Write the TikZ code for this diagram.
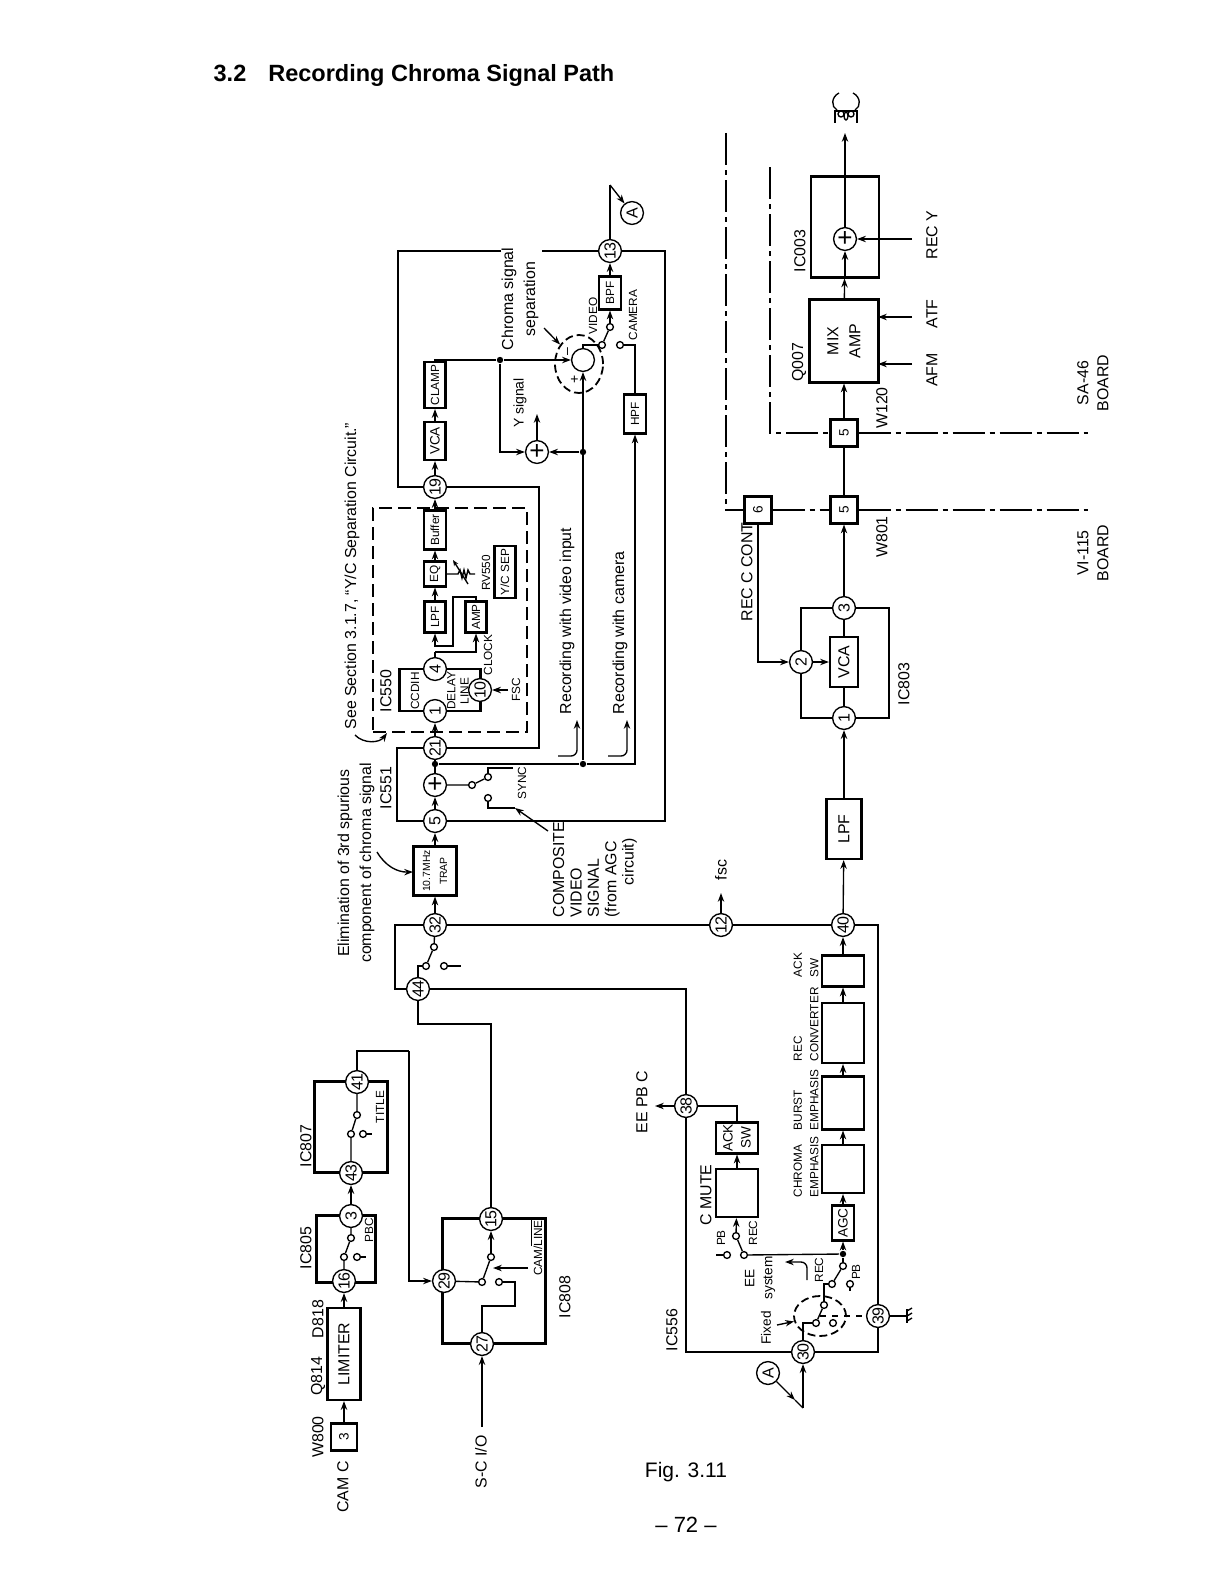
\documentclass[tikz,border=0pt]{standalone}
\usepackage{fontspec}
\setmainfont{Liberation Sans}
\usetikzlibrary{arrows.meta, shapes.geometric}
\newcommand{\lblf}{\fontsize{7.95}{11}\selectfont}
\newcommand{\smlf}{\fontsize{5.9}{8.2}\selectfont}
\newcommand{\midf}{\fontsize{6.8}{9}\selectfont}
\tikzset{
  every picture/.style={line width=0.68pt},
  sz/.style 2 args={minimum width=#1*0.5pt, minimum height=#2*0.5pt},
  blk/.style={draw, rotate=90, line width=1.05pt, inner sep=0pt, align=center, font=\smlf, fill=white},
  icbox/.style={draw, rotate=90, line width=1.05pt, inner sep=0pt},
  pinc/.style={circle, draw, fill=white, rotate=90, inner sep=0pt, minimum size=11.4pt, font=\fontsize{8}{8}\selectfont},
  sumc/.style={circle, draw, fill=white, inner sep=0pt, minimum size=11.4pt, font=\fontsize{13}{13}\selectfont},
  contact/.style={circle, draw, fill=white, inner sep=0pt, minimum size=3.4pt},
  jct/.style={circle, fill=black, inner sep=0pt, minimum size=3.2pt},
  arrow/.style={-{Stealth[length=4.4pt, width=3.2pt]}},
  icline/.style={line width=1.05pt},
  board/.style={line width=1.2pt, dash pattern=on 16pt off 2.5pt on 2.5pt off 2.5pt},
  lab/.style={rotate=90, font=\lblf, inner sep=0pt, align=center},
  labs/.style={rotate=90, font=\smlf, inner sep=0pt, align=center},
  labb/.style={rotate=90, font=\smlf, inner sep=0pt, align=left, anchor=west},
}
\begin{document}
\begin{tikzpicture}[x=0.5pt, y=-0.5pt]
  \useasboundingbox (0,0) rectangle (1223,1584);
  \node[anchor=west, inner sep=0pt, font=\fontsize{11.75}{13}\selectfont\bfseries] (sect) at (213,75) {3.2\hspace{11pt}Recording Chroma Signal Path};
  \node[inner sep=0pt, font=\fontsize{10.5}{12}\selectfont] (figno) at (686,1472) {Fig. 3.11};
  \node[inner sep=0pt, font=\fontsize{11}{12}\selectfont] (pageno) at (686,1525) {-- 72 --};

  \node[icbox, sz={42}{81}] (ic550) at (440,690) {};
  \node[icbox, sz={91}{73}] (ic807) at (351,1127) {};
  \node[icbox, sz={67}{59}] (ic805) at (346,1249) {};
  \node[icbox, sz={125}{103}] (ic808) at (494,1281) {};
  \node[icbox, sz={110}{88}] (ic803) at (845,663) {};
  \node[icbox, sz={101}{68}] (ic003) at (845,227) {};
  \node[draw, dash pattern=on 6.5pt off 3pt, line width=1.15pt, minimum width=77pt, minimum height=112pt, inner sep=0pt] (ycsep) at (450,620) {};
  \node[ellipse, draw, dash pattern=on 4pt off 2pt, line width=0.9pt, inner sep=0pt, minimum width=24pt, minimum height=29pt] (sepring) at (579,364) {};
  \node[ellipse, draw, dash pattern=on 4pt off 2pt, line width=0.9pt, inner sep=0pt, minimum width=26pt, minimum height=20pt] (fixring) at (820,1316) {};

  \node[pinc] (p13) at (610,251) {13};
  \node[pinc] (p19) at (435,487) {19};
  \node[pinc] (p21) at (435,748) {21};
  \node[pinc] (p5) at (435,821) {5};
  \node[pinc] (p4) at (435,669) {4};
  \node[pinc] (p1) at (435,711) {1};
  \node[pinc] (p10) at (480,690) {10};
  \node[pinc] (p32) at (435,925) {32};
  \node[pinc] (p44) at (418,989) {44};
  \node[pinc] (p41) at (357,1082) {41};
  \node[pinc] (p43) at (351,1173) {43};
  \node[pinc] (p3) at (351,1216) {3};
  \node[pinc] (p16) at (344,1281) {16};
  \node[pinc] (p29) at (444,1281) {29};
  \node[pinc] (p15) at (491,1219) {15};
  \node[pinc] (p27) at (482,1344) {27};
  \node[pinc] (p12) at (721,925) {12};
  \node[pinc] (p40) at (843,925) {40};
  \node[pinc] (p38) at (686,1106) {38};
  \node[pinc] (p30) at (803,1352) {30};
  \node[pinc] (p39) at (878,1316) {39};
  \node[pinc] (p1b) at (844,718) {1};
  \node[pinc] (p2b) at (801,662) {2};
  \node[pinc] (p3b) at (844,608) {3};
  \node[pinc] (cA) at (632,213) {A};
  \node[pinc] (cB) at (768,1373) {A};

  \node[blk, sz={33}{22}] (bpf) at (610,293) {BPF};
  \node[blk, sz={39}{22}] (hpf) at (635,414) {HPF};
  \node[blk, sz={46}{21}] (clamp) at (435,385) {CLAMP};
  \node[blk, sz={38}{21}, font=\midf] (vca) at (435,441) {VCA};
  \node[blk, sz={39}{22}] (buffer) at (435,530) {Buffer};
  \node[blk, sz={25}{22}] (eq) at (435,574) {EQ};
  \node[blk, sz={31}{21}] (lpfa) at (435,617) {LPF};
  \node[blk, sz={31}{21}] (amp) at (476,617) {AMP};
  \node[blk, sz={52}{21}] (ycsepbox) at (505,572) {Y/C SEP};
  \node[blk, sz={49}{43}, font=\fontsize{5.2}{7.4}\selectfont] (trap) at (435,871) {10.7MHz\\[1pt]TRAP};
  \node[blk, sz={92}{33}, font=\lblf] (limiter) at (344,1354) {LIMITER};
  \node[blk, sz={27}{26}, font=\midf] (w800) at (344,1437) {3};
  \node[blk, sz={31}{42}] (acksw) at (843,971) {};
  \node[blk, sz={60}{42}] (recconv) at (843,1033) {};
  \node[blk, sz={53}{42}] (burst) at (843,1103) {};
  \node[blk, sz={48}{42}] (chroma) at (843,1169) {};
  \node[blk, sz={35}{22}, font=\midf] (agc) at (843,1223) {AGC};
  \node[blk, sz={31}{42}, font=\midf] (acksw2) at (737,1138) {ACK\\SW};
  \node[blk, sz={48}{42}] (cmute) at (737,1193) {};
  \node[blk, sz={60}{35}, font=\lblf] (lpfb) at (844,829) {LPF};
  \node[blk, sz={50}{28}, font=\lblf] (vcab) at (844,662) {VCA};
  \node[blk, sz={27}{27}, font=\midf] (c6) at (758,510) {6};
  \node[blk, sz={27}{27}, font=\midf] (c5a) at (844,510) {5};
  \node[blk, sz={27}{27}, font=\midf] (c5b) at (844,433) {5};
  \node[blk, sz={83}{69}, font=\lblf] (mix) at (844,341) {MIX\\AMP};

  \node[sumc] (sub) at (583,360) {};
  \node[sumc] (plusy) at (537,452) {+};
  \node[sumc] (plusa) at (435,785) {+};
  \node[sumc] (plusm) at (845,239) {+};

  \node[jct] (jy) at (500,360) {};
  \node[jct] (j2) at (583,452) {};
  \node[jct] (j3) at (583,764) {};
  \node[jct] (j1) at (435,764) {};
  \node[jct] (jagc) at (843,1254) {};

  \node[contact] (swv) at (610,327) {};
  \node[contact] (swcom) at (602,345) {};
  \node[contact] (swcam) at (620,345) {};
  \node[contact] (swsa) at (472,785) {};
  \node[contact] (swsb) at (488,777) {};
  \node[contact] (swsc) at (488,798) {};
  \node[contact] (sw44a) at (434,947) {};
  \node[contact] (sw44b) at (426,966) {};
  \node[contact] (sw44c) at (444,966) {};
  \node[contact] (swta) at (357,1115) {};
  \node[contact] (swtb) at (351,1134) {};
  \node[contact] (swtc) at (363,1134) {};
  \node[contact] (swpa) at (351,1238) {};
  \node[contact] (swpb) at (344,1257) {};
  \node[contact] (swpc) at (357,1257) {};
  \node[contact] (swla) at (491,1257) {};
  \node[contact] (swlb) at (482,1282) {};
  \node[contact] (swlc) at (499,1282) {};
  \node[contact] (swma) at (736,1236) {};
  \node[contact] (swmb) at (744,1255) {};
  \node[contact] (swmc) at (727,1255) {};
  \node[contact] (swra) at (843,1266) {};
  \node[contact] (swrb) at (832,1284) {};
  \node[contact] (swrc) at (850,1284) {};
  \node[contact] (swfa) at (824,1305) {};
  \node[contact] (swfb) at (816,1323) {};
  \node[contact] (swfc) at (833,1323) {};

  \coordinate (gapa) at (542,251);
  \coordinate (gapb) at (501,251);
  \coordinate (ica) at (398,251);
  \coordinate (icb) at (398,487);
  \coordinate (icc) at (539,487);
  \coordinate (icd) at (539,748);
  \coordinate (ice) at (397,748);
  \coordinate (icf) at (397,821);
  \coordinate (icg) at (665,821);
  \coordinate (ich) at (665,251);
  \draw[icline] (p13) -- (gapa);
  \draw[icline] (gapb) -- (ica) -- (icb) -- (p19);
  \draw[icline] (p19) -- (icc) -- (icd) -- (p21);
  \draw[icline] (p21) -- (ice) -- (icf) -- (p5);
  \draw[icline] (p5) -- (icg) -- (ich) -- (p13);

  \coordinate (ida) at (395,925);
  \coordinate (idb) at (395,989);
  \coordinate (idc) at (686,989);
  \coordinate (idd) at (686,1352);
  \coordinate (ide) at (878,1352);
  \coordinate (idf) at (878,925);
  \draw[icline] (p32) -- (ida) -- (idb) -- (p44);
  \draw[icline] (p44) -- (idc) -- (p38);
  \draw[icline] (p38) -- (idd) -- (p30);
  \draw[icline] (p30) -- (ide) -- (p39);
  \draw[icline] (p39) -- (idf) -- (p40);
  \draw[icline] (p40) -- (p12);
  \draw[icline] (p12) -- (p32);

  \coordinate (atip) at (610,185);
  \draw (p13) -- (atip);
  \draw[arrow] (atip) -- (cA);
  \draw[arrow] (bpf) -- (p13);
  \draw[arrow] (swv) -- (bpf);
  \draw (swcom) -- (swv);
  \draw (sub) |- (swcom);
  \draw (swcam) -| (hpf);
  \draw[arrow] (j3) -| (hpf);
  \draw[arrow] (j3) -- (sub);
  \draw (j1) -- (j3);
  \draw (plusa) -- (p21);
  \draw[arrow] (j2) -- (plusy);
  \draw[arrow] (jy) |- (plusy);
  \coordinate (yout) at (537,414);
  \draw[arrow] (plusy) -- (yout);
  \coordinate (clampout) at (435,360);
  \draw (clamp) -- (clampout) -- (jy);
  \draw[arrow] (jy) -- (sub);
  \draw[arrow] (vca) -- (clamp);
  \draw[arrow] (p19) -- (vca);
  \draw[arrow] (buffer) -- (p19);
  \draw[arrow] (eq) -- (buffer);
  \draw[arrow] (lpfa) -- (eq);
  \coordinate (fba) at (453,597);
  \coordinate (fbb) at (453,646);
  \draw[arrow] (amp) |- (fba) -- (fbb) -| (lpfa);
  \coordinate (p4t) at (435,652);
  \draw (p4) -- (p4t);
  \draw[arrow] (p4t) -| (amp);
  \coordinate (fscin) at (508,690);
  \draw[arrow] (fscin) -- (p10);
  \draw[arrow] (p21) -- (p1);
  \draw[arrow] (p5) -- (plusa);
  \draw[arrow] (trap) -- (p5);
  \draw[arrow] (p32) -- (trap);

  \coordinate (potend) at (475,574);
  \draw (eq) -- (458,574) -- (460,570) -- (462,578) -- (464,570) -- (466,578) -- (468,570) -- (470,574) -- (potend);
  \coordinate (pota) at (468,584);
  \coordinate (potb) at (453,560);
  \draw[-{Stealth[length=3pt, width=2.4pt, open]}] (pota) -- (potb);

  \draw (plusa) -- (swsa) -- (swsb);
  \coordinate (syncend) at (513,768);
  \draw (swsb) |- (syncend);
  \coordinate (compend) at (515,808);
  \coordinate (compfrom) at (548,831);
  \draw (swsc) |- (compend);
  \draw[arrow] (compfrom) -- (compend);

  \coordinate (rva) at (558,756);
  \coordinate (rvb) at (577,720);
  \draw[arrow, rounded corners=3pt] (rva) -| (rvb);
  \coordinate (rca) at (608,756);
  \coordinate (rcb) at (627,720);
  \draw[arrow, rounded corners=3pt] (rca) -| (rcb);

  \coordinate (chra) at (544,328);
  \coordinate (seca) at (355,735);
  \coordinate (secb) at (387,733);
  \coordinate (elia) at (377,852);
  \coordinate (elib) at (413,872);
  \draw[arrow] (chra) -- (sepring);
  \draw[arrow] (seca) to[bend right=50] (secb);
  \draw[arrow] (elia) to[bend right=30] (elib);

  \draw (p32) -- (sw44a) -- (sw44b);
  \coordinate (s44e) at (461,966);
  \draw (sw44c) -- (s44e);
  \coordinate (s44t) at (418,966);
  \draw (p44) -- (s44t) -- (sw44b);
  \coordinate (l44) at (418,1024);
  \coordinate (l15) at (491,1024);
  \draw (p44) -- (l44) -- (l15) -- (p15);

  \coordinate (l41) at (409,1051);
  \draw (p41) |- (l41);
  \draw[arrow] (l41) |- (p29);
  \draw (p41) -- (swta) -- (swtb) -- (p43);
  \coordinate (swte) at (372,1134);
  \draw (swtc) -- (swte);
  \draw[arrow] (p3) -- (p43);
  \draw (p3) -- (swpa) -- (swpb) -- (p16);
  \coordinate (swpe) at (366,1257);
  \draw (swpc) -- (swpe);
  \draw[arrow] (limiter) -- (p16);
  \draw[arrow] (w800) -- (limiter);

  \draw[arrow] (swla) -- (p15);
  \draw (swla) -- (swlb) -- (p29);
  \coordinate (lca) at (515,1282);
  \coordinate (lcb) at (515,1306);
  \coordinate (lcc) at (482,1306);
  \draw (swlc) -- (lca) -- (lcb) -- (lcc) -- (p27);
  \coordinate (camin) at (528,1268);
  \coordinate (camto) at (493,1268);
  \draw[arrow] (camin) -- (camto);
  \coordinate (scin) at (482,1427);
  \draw[arrow] (scin) -- (p27);

  \coordinate (fscout) at (721,893);
  \draw[arrow] (p12) -- (fscout);
  \coordinate (eeout) at (655,1106);
  \draw[arrow] (p38) -- (eeout);
  \draw (p38) -| (acksw2);
  \draw[arrow] (cmute) -- (acksw2);
  \draw[arrow] (swma) -- (cmute);
  \draw (swma) -- (swmb) -- (jagc);
  \coordinate (swme) at (716,1255);
  \draw (swmc) -- (swme);
  \draw[arrow] (jagc) -- (agc);
  \draw (swra) -- (jagc);
  \draw (swra) -- (swrb);
  \coordinate (swrs) at (824,1284);
  \draw (swrb) -- (swrs) -- (swfa);
  \coordinate (swcs) at (850,1291);
  \draw (swrc) -- (swcs);
  \draw (swfa) -- (swfb);
  \coordinate (swfl) at (803,1323);
  \draw (swfb) -- (swfl) -- (p30);
  \coordinate (fixmid) at (820,1316);
  \draw[dashed] (fixmid) -- (p39);
  \coordinate (gnd) at (907,1316);
  \draw (p39) -- (gnd);
  \draw[line width=0.9pt] (907,1309) -- (907,1323);
  \draw (907,1311) -- (912,1308) (907,1316) -- (912,1313) (907,1321) -- (912,1318);
  \coordinate (bmid) at (795,1400);
  \coordinate (bjoin) at (803,1408);
  \draw[arrow] (cB) -- (bmid);
  \draw (bmid) -- (bjoin);
  \draw[arrow] (bjoin) -- (p30);
  \coordinate (eea) at (807,1280);
  \coordinate (eeb) at (785,1262);
  \draw[arrow, rounded corners=3pt] (eea) |- (eeb);
  \coordinate (fxa) at (777,1325);
  \draw[arrow] (fxa) -- (fixring);

  \draw[arrow] (agc) -- (chroma);
  \draw[arrow] (chroma) -- (burst);
  \draw[arrow] (burst) -- (recconv);
  \draw[arrow] (recconv) -- (acksw);
  \draw[arrow] (acksw) -- (p40);
  \draw[arrow] (p40) -- (lpfb);
  \draw[arrow] (lpfb) -- (p1b);
  \draw (p1b) -- (vcab);
  \draw (vcab) -- (p3b);
  \draw[arrow] (p2b) -- (vcab);
  \draw[arrow] (c6) |- (p2b);
  \draw[arrow] (p3b) -- (c5a);
  \draw (c5a) -- (c5b);
  \draw[arrow] (c5b) -- (mix);
  \draw[arrow] (mix) -- (ic003);
  \draw[arrow] (ic003.west) -- (plusm);
  \coordinate (headin) at (845,133);
  \draw[arrow] (plusm) -- (headin);
  \coordinate (recyin) at (912,239);
  \draw[arrow] (recyin) -- (plusm);
  \coordinate (atfin) at (912,317);
  \coordinate (atfto) at (878,317);
  \draw[arrow] (atfin) -- (atfto);
  \coordinate (afmin) at (912,364);
  \coordinate (afmto) at (878,364);
  \draw[arrow] (afmin) -- (afmto);

  \coordinate (bda) at (726,133);
  \coordinate (bdb) at (770,167);
  \coordinate (bdc) at (1088,510);
  \coordinate (bdd) at (1088,433);
  \draw[board] (bda) |- (c6);
  \draw[board] (c6) -- (c5a);
  \draw[board] (c5a) -- (bdc);
  \draw[board] (bdb) |- (c5b);
  \draw[board] (c5b) -- (bdd);

  \draw (839,93) .. controls (831,97) and (831,107) .. (837,110);
  \draw (853,93) .. controls (861,97) and (861,107) .. (855,110);
  \draw (835,110) -- (835,123);
  \draw (857,110) -- (857,123);
  \draw (835,111) -- (857,111);
  \draw (841,114) circle (3);
  \draw (851,114) circle (3);
  \draw (846,116) ellipse (2 and 4);

  \node[lab] (tchroma) at (520,299) {Chroma signal\\separation};
  \node[lab, font=\fontsize{7}{9}\selectfont] (tysig) at (520,403) {Y signal};
  \node[labs] (tvideo) at (593,316) {VIDEO};
  \node[labs] (tcamera) at (633,315) {CAMERA};
  \node[lab, font=\fontsize{7}{9}\selectfont] (tminus) at (569,352) {--};
  \node[lab, font=\fontsize{7}{9}\selectfont] (tplus) at (575,379) {+};
  \node[lab] (tsee) at (352,576) {See Section 3.1.7, ``Y/C Separation Circuit.''};
  \node[lab] (telim) at (356,863) {Elimination of 3rd spurious\\component of chroma signal};
  \node[lab] (tic551) at (386,788) {IC551};
  \node[lab] (tic550) at (386,691) {IC550};
  \node[labs] (tccdih) at (415,691) {CCDIH};
  \node[labs, font=\fontsize{5.9}{6.6}\selectfont] (tdelay) at (458,691) {DELAY\\LINE};
  \node[labs] (trv) at (486,573) {RV550};
  \node[labs] (tclock) at (488,655) {CLOCK};
  \node[labs] (tfsc) at (516,690) {FSC};
  \node[labs] (tsync) at (522,783) {SYNC};
  \node[lab] (trecv) at (567,621) {Recording with video input};
  \node[lab] (trecc) at (620,633) {Recording with camera};
  \node[lab, anchor=west, align=left, font=\fontsize{7.95}{8.7}\selectfont] (tcomp) at (595,918) {COMPOSITE\\VIDEO\\SIGNAL\\(from AGC\\\hspace*{16pt}circuit)};
  \node[lab] (tfsco) at (721,870) {fsc};
  \node[lab] (tee) at (642,1102) {EE PB C};
  \node[lab] (tcmute) at (706,1195) {C MUTE};
  \node[labs] (tpbm) at (721,1238) {PB};
  \node[labs] (trecm) at (753,1233) {REC};
  \node[labs] (trecs) at (819,1270) {REC};
  \node[labs] (tpbs) at (856,1272) {PB};
  \node[lab, font=\fontsize{6.8}{9}\selectfont] (teesys) at (760,1278) {EE\\system};
  \node[lab, font=\fontsize{6.8}{9}\selectfont] (tfixed) at (766,1328) {Fixed};
  \node[lab] (tic556) at (672,1330) {IC556};
  \node[labb] (tchrom) at (806,1198) {CHROMA\\EMPHASIS};
  \node[labb] (tburst) at (806,1131) {BURST\\EMPHASIS};
  \node[labb] (trecon) at (806,1062) {REC\\CONVERTER};
  \node[labb] (tack) at (806,978) {ACK\\SW};
  \node[lab] (tic803) at (904,684) {IC803};
  \node[lab] (trecc2) at (747,572) {REC C CONT};
  \node[lab] (tw801) at (882,537) {W801};
  \node[lab] (tw120) at (882,408) {W120};
  \node[lab] (tq007) at (799,362) {Q007};
  \node[lab] (tic003) at (800,251) {IC003};
  \node[lab] (trecy) at (932,235) {REC Y};
  \node[lab] (tatf) at (932,314) {ATF};
  \node[lab] (tafm) at (932,370) {AFM};
  \node[lab, font=\fontsize{7.95}{10}\selectfont] (tsa) at (1093,383) {SA-46\\BOARD};
  \node[lab, font=\fontsize{7.95}{10}\selectfont] (tvi) at (1093,553) {VI-115\\BOARD};
  \node[lab] (tcam) at (343,1487) {CAM C};
  \node[lab] (tw800) at (318,1437) {W800};
  \node[lab] (tq814) at (318,1376) {Q814};
  \node[lab] (td818) at (318,1319) {D818};
  \node[lab] (tic805) at (306,1248) {IC805};
  \node[lab] (tic807) at (306,1146) {IC807};
  \node[labs] (ttitle) at (380,1107) {TITLE};
  \node[labs] (tpbc) at (369,1230) {PBC};
  \node[labs] (tcaml) at (536,1248) {CAM/$\overline{\mbox{LINE}}$};
  \node[lab] (tsc) at (481,1462) {S-C I/O};
  \node[lab] (tic808) at (565,1297) {IC808};
\end{tikzpicture}
\end{document}
